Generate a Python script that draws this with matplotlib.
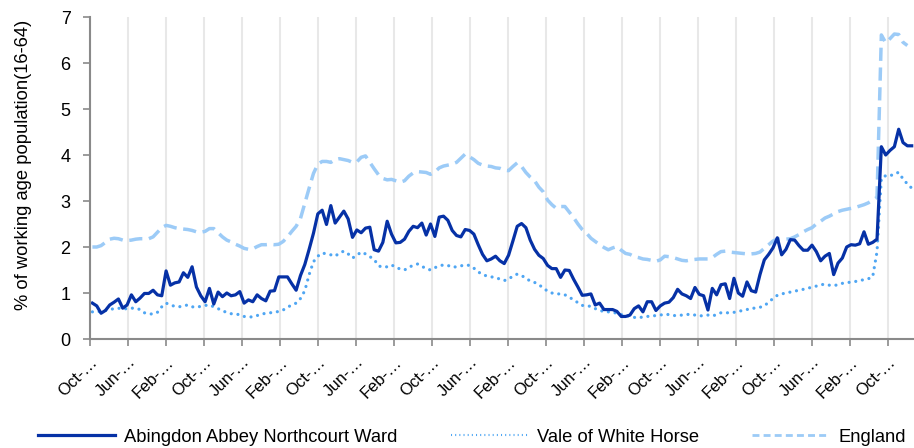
import numpy as np
import matplotlib
matplotlib.use("Agg")
import matplotlib.pyplot as plt
from matplotlib.lines import Line2D

series_names = ["Abingdon Abbey Northcourt Ward", "Vale of White Horse", "England"]

abingdon = [
    0.78, 0.72, 0.56, 0.62, 0.74, 0.80, 0.87, 0.67, 0.74, 0.96,
    0.81, 0.89, 0.99, 0.99, 1.06, 0.96, 0.94, 1.48, 1.17, 1.22,
    1.24, 1.44, 1.34, 1.57, 1.13, 0.94, 0.81, 1.10, 0.76, 1.02,
    0.92, 1.00, 0.94, 0.96, 1.03, 0.78, 0.85, 0.81, 0.96, 0.88,
    0.83, 1.04, 1.05, 1.35, 1.35, 1.35, 1.20, 1.06, 1.38, 1.62,
    1.95, 2.30, 2.72, 2.80, 2.49, 2.90, 2.52, 2.65, 2.78, 2.61,
    2.21, 2.37, 2.31, 2.41, 2.43, 1.94, 1.91, 2.10, 2.56, 2.28,
    2.09, 2.10, 2.17, 2.34, 2.45, 2.42, 2.52, 2.26, 2.50, 2.23,
    2.65, 2.67, 2.58, 2.36, 2.25, 2.22, 2.38, 2.36, 2.28, 2.05,
    1.84, 1.70, 1.74, 1.80, 1.70, 1.64, 1.82, 2.13, 2.45, 2.51,
    2.42, 2.15, 1.95, 1.82, 1.75, 1.60, 1.53, 1.53, 1.34, 1.50,
    1.49, 1.30, 1.13, 0.95, 0.96, 0.98, 0.74, 0.78, 0.64, 0.64,
    0.64, 0.60, 0.49, 0.49, 0.52, 0.66, 0.72, 0.59, 0.81, 0.81,
    0.62, 0.72, 0.78, 0.80, 0.90, 1.08, 0.98, 0.94, 0.88, 1.12,
    0.97, 0.94, 0.63, 1.10, 0.96, 1.18, 1.20, 0.88, 1.32, 1.00,
    0.93, 1.24, 1.05, 1.02, 1.40, 1.72, 1.84, 1.98, 2.20, 1.83,
    1.95, 2.16, 2.15, 2.03, 1.93, 1.93, 2.04, 1.90, 1.70, 1.80,
    1.86, 1.40, 1.65, 1.76, 2.00, 2.05, 2.04, 2.07, 2.33, 2.06,
    2.10, 2.17, 4.18, 4.00, 4.10, 4.18, 4.56, 4.27, 4.20, 4.20,
]

vale = [
    0.59, 0.59, 0.60, 0.62, 0.64, 0.66, 0.67, 0.65, 0.66, 0.67,
    0.67, 0.64, 0.57, 0.55, 0.54, 0.58, 0.70, 0.78, 0.74, 0.71,
    0.70, 0.72, 0.74, 0.70, 0.69, 0.71, 0.73, 0.74, 0.70, 0.66,
    0.61, 0.58, 0.55, 0.54, 0.53, 0.49, 0.48, 0.48, 0.51, 0.54,
    0.56, 0.57, 0.58, 0.60, 0.63, 0.69, 0.74, 0.78, 0.88, 1.05,
    1.40, 1.68, 1.80, 1.87, 1.85, 1.83, 1.80, 1.87, 1.91, 1.85,
    1.76, 1.82, 1.89, 1.85, 1.79, 1.73, 1.59, 1.56, 1.57, 1.61,
    1.56, 1.52, 1.50, 1.56, 1.60, 1.63, 1.58, 1.53, 1.50, 1.55,
    1.59, 1.61, 1.60, 1.56, 1.57, 1.59, 1.61, 1.60, 1.54, 1.46,
    1.40, 1.37, 1.35, 1.34, 1.30, 1.27, 1.30, 1.37, 1.41, 1.38,
    1.32, 1.26, 1.23, 1.18, 1.11, 1.04, 1.00, 0.98, 0.98, 0.96,
    0.91, 0.85, 0.79, 0.73, 0.72, 0.71, 0.66, 0.63, 0.59, 0.59,
    0.58, 0.56, 0.53, 0.50, 0.50, 0.47, 0.46, 0.48, 0.49, 0.50,
    0.51, 0.52, 0.54, 0.53, 0.51, 0.51, 0.52, 0.53, 0.54, 0.52,
    0.50, 0.51, 0.52, 0.50, 0.53, 0.57, 0.57, 0.57, 0.58, 0.60,
    0.62, 0.64, 0.67, 0.67, 0.69, 0.72, 0.80, 0.88, 0.95, 0.98,
    1.00, 1.02, 1.04, 1.06, 1.08, 1.10, 1.13, 1.15, 1.18, 1.19,
    1.17, 1.16, 1.18, 1.21, 1.22, 1.24, 1.25, 1.27, 1.29, 1.31,
    1.35, 1.90, 3.50, 3.55, 3.54, 3.60, 3.62, 3.48, 3.37, 3.28,
]

england = [
    2.00, 2.00, 2.03, 2.10, 2.17, 2.19, 2.18, 2.15, 2.14, 2.15,
    2.17, 2.18, 2.18, 2.18, 2.22, 2.32, 2.42, 2.47, 2.45, 2.42,
    2.40, 2.39, 2.38, 2.36, 2.33, 2.32, 2.34, 2.40, 2.40, 2.31,
    2.22, 2.15, 2.11, 2.06, 2.02, 1.97, 1.95, 1.96, 2.01, 2.05,
    2.05, 2.06, 2.05, 2.06, 2.12, 2.22, 2.34, 2.45, 2.62, 2.95,
    3.28, 3.60, 3.80, 3.86, 3.86, 3.84, 3.90, 3.92, 3.90, 3.88,
    3.84, 3.85, 3.95, 3.98, 3.84, 3.70, 3.57, 3.49, 3.46, 3.47,
    3.44, 3.41, 3.44, 3.54, 3.61, 3.64, 3.63, 3.62, 3.58, 3.63,
    3.72, 3.76, 3.78, 3.80, 3.84, 3.93, 4.02, 3.96, 3.90, 3.82,
    3.78, 3.76, 3.75, 3.72, 3.71, 3.67, 3.66, 3.75, 3.83, 3.75,
    3.62, 3.52, 3.44, 3.30, 3.20, 3.02, 2.92, 2.84, 2.88, 2.88,
    2.76, 2.64, 2.50, 2.38, 2.30, 2.19, 2.12, 2.05, 1.99, 1.94,
    1.98, 2.01, 1.93, 1.86, 1.84, 1.79, 1.77, 1.74, 1.73, 1.71,
    1.69, 1.72, 1.80, 1.79, 1.77, 1.74, 1.71, 1.70, 1.72, 1.73,
    1.74, 1.74, 1.74, 1.77, 1.84, 1.90, 1.91, 1.89, 1.88, 1.87,
    1.86, 1.85, 1.85, 1.86, 1.89, 1.97, 2.05, 2.13, 2.17, 2.17,
    2.17, 2.18, 2.22, 2.27, 2.33, 2.38, 2.42, 2.50, 2.56, 2.63,
    2.67, 2.72, 2.77, 2.80, 2.82, 2.84, 2.86, 2.89, 2.92, 2.96,
    3.02, 3.08, 6.61, 6.44, 6.53, 6.63, 6.62, 6.45, 6.38, np.nan,
]

tick_labels = ["Oct-\u2026", "Jun-\u2026", "Feb-\u2026"] * 7 + ["Oct-\u2026"]
y_ticks = [0, 1, 2, 3, 4, 5, 6, 7]

plt.rcParams["font.family"] = ["Liberation Sans", "DejaVu Sans"]

W, H = 914, 448
fig = plt.figure(figsize=(W / 100, H / 100), dpi=100)
ax_left, ax_right, ax_top, ax_bottom = 90, 914, 17, 339
ax = fig.add_axes([ax_left / W, 1 - ax_bottom / H, (ax_right - ax_left) / W, (ax_bottom - ax_top) / H])

x = np.arange(len(abingdon))
n = len(abingdon)
first_px, last_px = 92.4, 911.7
step_px = (last_px - first_px) / (n - 1)
xmin = (ax_left - first_px) / step_px
xmax = (ax_right - first_px) / step_px
tick_step = 38.0 / step_px

c_eng = "#9CCBF7"
c_vale = "#4FA6F3"
c_ward = "#0631A6"

eng_style = dict(color=c_eng, lw=2.5, linestyle=(0, (3.8, 1.9)))
vale_style = dict(color=c_vale, lw=2.3, linestyle=(0, (0.01, 2.1)), dash_capstyle="round")
ward_style = dict(color=c_ward, lw=2.3)

ax.plot(x, england, **eng_style)
ax.plot(x, vale, **vale_style)
ax.plot(x, abingdon, **ward_style)

ax.set_xlim(xmin, xmax)
ax.set_ylim(0, 7)
ticks = xmin + tick_step * np.arange(len(tick_labels))
ax.set_xticks(ticks)
ax.set_xticklabels(tick_labels, rotation=45, ha="right", rotation_mode="anchor", fontsize=12)
ax.set_yticks(y_ticks)
ax.set_yticklabels([str(v) for v in y_ticks], fontsize=13)

ax.grid(axis="x", color="#E8E8E8", lw=1.5)
ax.set_axisbelow(True)
for s in ["top", "right"]:
    ax.spines[s].set_visible(False)
for s in ["left", "bottom"]:
    ax.spines[s].set_color("#8A8A8A")
    ax.spines[s].set_linewidth(1.5)
ax.tick_params(axis="both", direction="out", length=5, width=1.2, color="#8A8A8A", labelcolor="black")
ax.tick_params(axis="x", pad=6)
ax.tick_params(axis="y", pad=9)

fig.text(24 / W, 1 - 165 / H, "% of working age population(16-64)", rotation=90,
         ha="center", va="center", fontsize=13.2)

handles = [
    Line2D([], [], **ward_style),
    Line2D([], [], color=c_vale, lw=1.5, linestyle=(0, (0.5, 1.5))),
    Line2D([], [], color=c_eng, lw=2.0, linestyle=(0, (2.5, 1.5))),
]
fig.legend(handles, series_names, loc="center left", bbox_to_anchor=(38 / W, 1 - 437 / H),
           ncol=3, frameon=False, borderpad=0, borderaxespad=0, handlelength=4.2,
           handletextpad=0.5, columnspacing=2.9, fontsize=13.2)

fig.savefig("out.png", dpi=100)
